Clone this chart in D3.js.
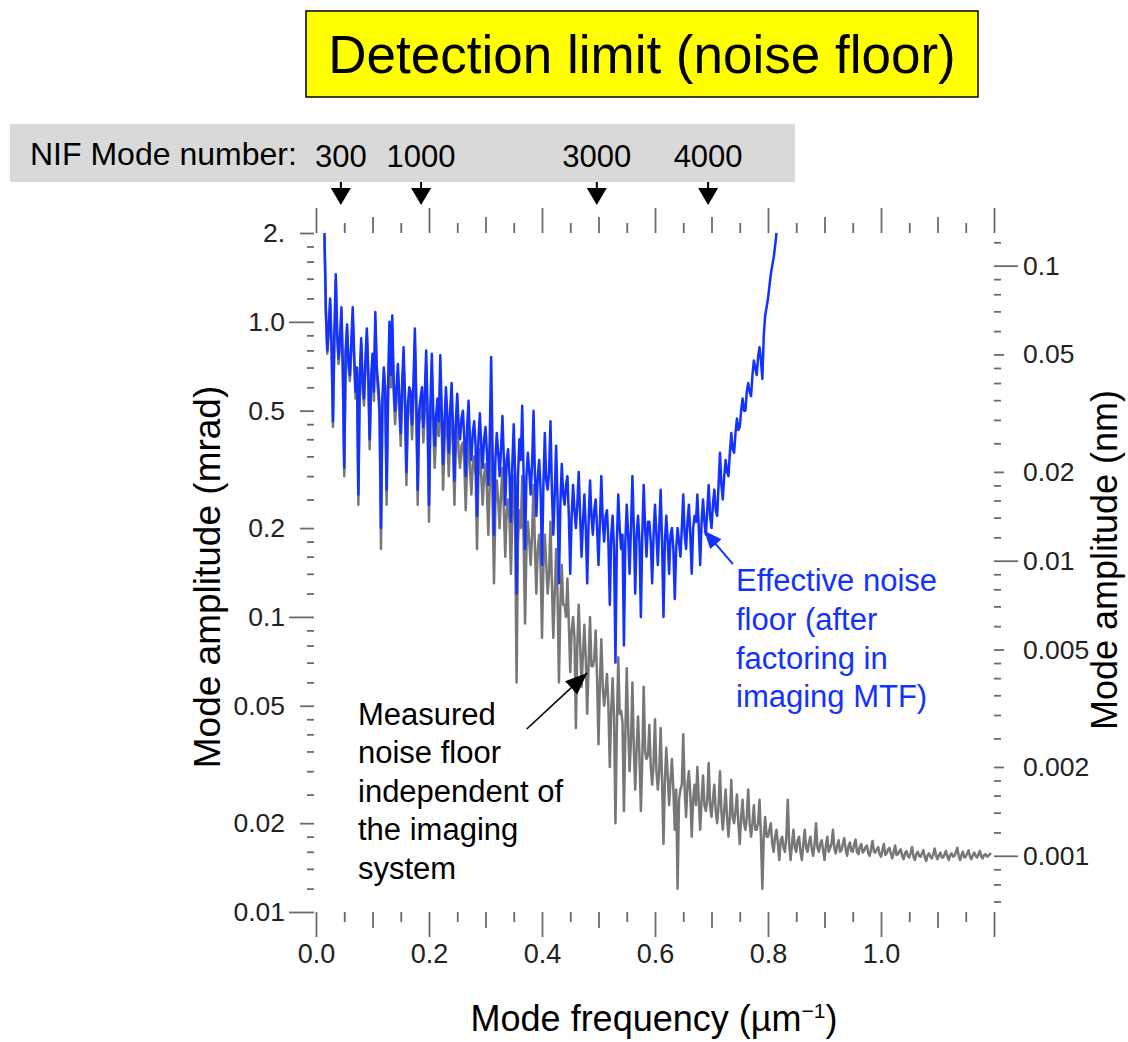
<!DOCTYPE html>
<html>
<head>
<meta charset="utf-8">
<script src="https://cdn.jsdelivr.net/npm/d3@7"></script>
<style>
body { margin: 0; background: #fff; }
svg { font-family: "Liberation Sans", Arial, Helvetica, sans-serif; }
</style>
</head>
<body>
<svg id="chart" width="1128" height="1042"></svg>
<script>
// frequency grid of both spectra (um^-1)
var freqStart = 0.015;
var freqStep = 0.0025;

// measured noise floor, mrad (grey)
var measuredFloor = [
  1.95, 1.05, 0.78, 0.92, 1.15, 0.82, 0.44, 0.86, 1.38, 0.88, 0.72, 0.84, 1.08, 0.68, 0.30, 0.76, 0.94, 0.70, 0.63, 0.80,
  1.05, 0.74, 0.55, 0.66, 0.24, 0.62, 0.84, 0.58, 0.52, 0.70, 0.90, 0.64, 0.37, 0.60, 0.73, 0.54, 1.00, 0.66, 0.57, 0.48,
  0.17, 0.50, 0.64, 0.55, 0.24, 0.53, 0.92, 0.60, 0.96, 0.57, 0.45, 0.55, 0.66, 0.50, 0.38, 0.56, 0.74, 0.50, 0.28, 0.47,
  0.54, 0.52, 0.40, 0.55, 0.85, 0.50, 0.24, 0.45, 0.49, 0.53, 0.39, 0.50, 0.70, 0.45, 0.21, 0.46, 0.66, 0.44, 0.32, 0.41,
  0.47, 0.41, 0.65, 0.43, 0.27, 0.39, 0.50, 0.41, 0.30, 0.42, 0.52, 0.37, 0.24, 0.38, 0.47, 0.36, 0.32, 0.38, 0.39, 0.33,
  0.23, 0.33, 0.42, 0.32, 0.26, 0.33, 0.35, 0.30, 0.17, 0.30, 0.37, 0.30, 0.24, 0.30, 0.33, 0.27, 0.19, 0.28, 0.52, 0.25,
  0.13, 0.24, 0.29, 0.25, 0.20, 0.26, 0.32, 0.23, 0.16, 0.23, 0.25, 0.21, 0.14, 0.22, 0.30, 0.20, 0.06, 0.18, 0.23, 0.20,
  0.30, 0.18, 0.095, 0.17, 0.21, 0.18, 0.15, 0.19, 0.28, 0.17, 0.12, 0.17, 0.19, 0.15, 0.085, 0.15, 0.19, 0.15, 0.12, 0.14,
  0.21, 0.13, 0.085, 0.12, 0.17, 0.12, 0.06, 0.11, 0.15, 0.11, 0.11, 0.10, 0.135, 0.095, 0.065, 0.09, 0.10, 0.085, 0.042, 0.08,
  0.11, 0.08, 0.058, 0.075, 0.094, 0.072, 0.047, 0.07, 0.10, 0.068, 0.068, 0.072, 0.09, 0.062, 0.037, 0.06, 0.084, 0.058, 0.05, 0.056,
  0.064, 0.05, 0.031, 0.048, 0.062, 0.046, 0.02, 0.042, 0.073, 0.047, 0.048, 0.044, 0.022, 0.04, 0.067, 0.042, 0.03, 0.038, 0.06, 0.036,
  0.026, 0.036, 0.046, 0.034, 0.022, 0.033, 0.058, 0.035, 0.033, 0.034, 0.043, 0.031, 0.027, 0.032, 0.045, 0.03, 0.026, 0.03, 0.042, 0.028,
  0.017, 0.028, 0.036, 0.029, 0.023, 0.028, 0.033, 0.026, 0.019, 0.026, 0.012, 0.024, 0.026, 0.027, 0.04, 0.026, 0.021, 0.027, 0.03, 0.025,
  0.018, 0.024, 0.027, 0.023, 0.031, 0.024, 0.019, 0.024, 0.029, 0.023, 0.022, 0.024, 0.032, 0.023, 0.021, 0.024, 0.027, 0.022, 0.02, 0.023,
  0.03, 0.022, 0.019, 0.022, 0.026, 0.021, 0.018, 0.021, 0.028, 0.021, 0.02, 0.022, 0.025, 0.02, 0.017, 0.021, 0.024, 0.02, 0.019, 0.021,
  0.026, 0.02, 0.018, 0.02, 0.023, 0.019, 0.019, 0.02, 0.024, 0.018, 0.012, 0.018, 0.021, 0.018, 0.018, 0.019, 0.02, 0.017, 0.016, 0.018,
  0.019, 0.017, 0.015, 0.0175, 0.018, 0.0165, 0.016, 0.018, 0.024, 0.017, 0.015, 0.017, 0.019, 0.0165, 0.016, 0.0175, 0.018, 0.016, 0.015, 0.017,
  0.019, 0.0165, 0.016, 0.0172, 0.018, 0.0163, 0.0155, 0.017, 0.02, 0.0165, 0.016, 0.017, 0.0175, 0.0162, 0.015, 0.0168, 0.018, 0.016, 0.0165, 0.017,
  0.019, 0.0164, 0.0158, 0.0168, 0.0175, 0.016, 0.0162, 0.017, 0.0178, 0.0163, 0.0155, 0.0167, 0.0172, 0.0161, 0.016, 0.0169, 0.0176, 0.016, 0.0157, 0.0166,
  0.017, 0.0159, 0.0161, 0.0166, 0.0168, 0.0158, 0.0155, 0.0164, 0.0174, 0.016, 0.0159, 0.0163, 0.0166, 0.0157, 0.0154, 0.0162, 0.017, 0.0156, 0.0158, 0.0163,
  0.0165, 0.0157, 0.0152, 0.016, 0.0168, 0.0156, 0.0157, 0.0161, 0.0163, 0.0155, 0.0151, 0.0158, 0.0161, 0.0155, 0.0153, 0.0159, 0.0166, 0.0154, 0.0150, 0.0157,
  0.0160, 0.0155, 0.0154, 0.0158, 0.0162, 0.0153, 0.0149, 0.0156, 0.0158, 0.0154, 0.0152, 0.0157, 0.0164, 0.0155, 0.0151, 0.0156, 0.0159, 0.0153, 0.0153, 0.0157,
  0.0161, 0.0154, 0.0150, 0.0156, 0.0158, 0.0154, 0.0155, 0.0159, 0.0165, 0.0155, 0.0150, 0.0156, 0.0160, 0.0153, 0.0154, 0.0158, 0.0162, 0.0154, 0.0151, 0.0156,
  0.0159, 0.0155, 0.0153, 0.0157, 0.0161, 0.0154, 0.0152, 0.0156, 0.0157, 0.0154, 0.0155, 0.0157, 0.0158
];

// effective noise floor after the imaging MTF, mrad (blue)
var effectiveFloor = [
  2.0, 1.10, 0.80, 0.95, 1.20, 0.85, 0.46, 0.90, 1.45, 0.92, 0.75, 0.88, 1.12, 0.70, 0.32, 0.80, 0.98, 0.74, 0.66, 0.85,
  1.12, 0.78, 0.58, 0.70, 0.26, 0.66, 0.88, 0.62, 0.55, 0.74, 0.95, 0.68, 0.40, 0.64, 0.78, 0.58, 1.08, 0.70, 0.62, 0.52,
  0.20, 0.55, 0.70, 0.60, 0.27, 0.58, 1.00, 0.66, 1.05, 0.62, 0.50, 0.60, 0.72, 0.55, 0.42, 0.62, 0.82, 0.56, 0.31, 0.52,
  0.60, 0.58, 0.45, 0.62, 0.95, 0.55, 0.27, 0.50, 0.55, 0.60, 0.44, 0.56, 0.80, 0.50, 0.24, 0.52, 0.78, 0.50, 0.38, 0.48,
  0.55, 0.46, 0.77, 0.50, 0.33, 0.46, 0.60, 0.48, 0.36, 0.50, 0.62, 0.44, 0.29, 0.46, 0.57, 0.44, 0.40, 0.47, 0.50, 0.40,
  0.30, 0.44, 0.54, 0.40, 0.34, 0.42, 0.46, 0.38, 0.22, 0.40, 0.49, 0.38, 0.32, 0.40, 0.44, 0.36, 0.28, 0.40, 0.76, 0.36,
  0.19, 0.34, 0.42, 0.36, 0.30, 0.37, 0.48, 0.34, 0.24, 0.34, 0.37, 0.30, 0.21, 0.33, 0.45, 0.30, 0.12, 0.30, 0.40, 0.34,
  0.52, 0.30, 0.17, 0.30, 0.36, 0.31, 0.26, 0.33, 0.50, 0.30, 0.22, 0.30, 0.34, 0.27, 0.15, 0.28, 0.42, 0.29, 0.27, 0.31,
  0.46, 0.27, 0.19, 0.26, 0.38, 0.25, 0.13, 0.24, 0.33, 0.26, 0.24, 0.28, 0.30, 0.22, 0.14, 0.22, 0.28, 0.23, 0.20, 0.24,
  0.31, 0.22, 0.16, 0.21, 0.26, 0.20, 0.13, 0.21, 0.29, 0.22, 0.19, 0.23, 0.25, 0.20, 0.15, 0.21, 0.30, 0.21, 0.18, 0.22,
  0.23, 0.18, 0.11, 0.19, 0.22, 0.17, 0.07, 0.18, 0.26, 0.20, 0.17, 0.19, 0.08, 0.18, 0.24, 0.19, 0.14, 0.20, 0.30, 0.20,
  0.12, 0.19, 0.22, 0.18, 0.10, 0.19, 0.28, 0.20, 0.16, 0.21, 0.21, 0.18, 0.13, 0.19, 0.24, 0.19, 0.15, 0.20, 0.27, 0.18,
  0.10, 0.18, 0.22, 0.18, 0.14, 0.19, 0.20, 0.17, 0.115, 0.17, 0.20, 0.18, 0.16, 0.20, 0.26, 0.19, 0.17, 0.21, 0.24, 0.19,
  0.14, 0.20, 0.22, 0.21, 0.26, 0.20, 0.15, 0.21, 0.25, 0.21, 0.19, 0.23, 0.28, 0.22, 0.20, 0.24, 0.27, 0.23, 0.22, 0.28,
  0.36, 0.28, 0.25, 0.30, 0.34, 0.31, 0.30, 0.36, 0.42, 0.37, 0.36, 0.42, 0.47, 0.43, 0.44, 0.50, 0.55, 0.50, 0.50, 0.58,
  0.62, 0.58, 0.56, 0.66, 0.74, 0.70, 0.66, 0.76, 0.82, 0.74, 0.64, 0.90, 1.05, 1.12, 1.20, 1.32, 1.45, 1.55, 1.65, 1.80,
  2.0
];

var modeLabels = ["300", "1000", "3000", "4000"];
var modeFreqs = [0.044, 0.186, 0.497, 0.694];

var leftTicks = [2, 1, 0.5, 0.2, 0.1, 0.05, 0.02, 0.01];
var leftTickText = ["2.", "1.0", "0.5", "0.2", "0.1", "0.05", "0.02", "0.01"];
var rightTicks = [0.1, 0.05, 0.02, 0.01, 0.005, 0.002, 0.001];
var xTicks = [0, 0.2, 0.4, 0.6, 0.8, 1.0];
var nmPerMrad = 0.0645;

var svg = d3.select("#chart");
var x = d3.scaleLinear().domain([0, 1.2]).range([316, 994]);
var y = d3.scaleLog().domain([0.01, 2]).range([912, 233]);
var y2 = d3.scaleLog().domain([0.01 * nmPerMrad, 2 * nmPerMrad]).range([912, 233]);

// igor style log ticks
function logTicks(scale, mult) {
  var d = scale.domain(), out = [];
  for (var e = -5; e <= 1; e++) {
    mult.forEach(function(m) {
      var v = +(m * Math.pow(10, e)).toPrecision(6);
      if (v >= d[0] * 0.999 && v <= d[1] * 1.001) out.push(v);
    });
  }
  return out;
}
var decMult = [1], midMult = [2, 5], minMult = [1.2, 1.4, 1.6, 1.8, 2.5, 3, 3.5, 4, 4.5, 6, 7, 8, 9];

var tickColor = "#6b6b6b", labelColor = "#222";

function styleAxis(g) {
  g.select(".domain").remove();
  g.selectAll(".tick line").attr("stroke", tickColor).attr("stroke-width", 1.8);
  g.selectAll(".tick text").attr("fill", labelColor).style("font-size", "26.5px");
}

// title
svg.append("rect").attr("x", 306).attr("y", 11).attr("width", 672).attr("height", 86)
  .attr("fill", "#ffff00").attr("stroke", "#000").attr("stroke-width", 1.5);
svg.append("text").attr("x", 642).attr("y", 73).attr("text-anchor", "middle")
  .style("font-size", "53px").text("Detection limit (noise floor)");

// mode number band
svg.append("rect").attr("x", 10).attr("y", 124).attr("width", 785).attr("height", 58).attr("fill", "#d9d9d9");
svg.append("text").attr("x", 30).attr("y", 165).style("font-size", "32px").text("NIF Mode number:");
modeLabels.forEach(function(lab, i) {
  var px = x(modeFreqs[i]);
  svg.append("text").attr("x", px).attr("y", 167).attr("text-anchor", "middle")
    .style("font-size", "31px").text(lab);
  svg.append("line").attr("x1", px).attr("x2", px).attr("y1", 182).attr("y2", 190)
    .attr("stroke", "#000").attr("stroke-width", 2);
  svg.append("path").attr("d", d3.line()([[px - 10, 188], [px + 10, 188], [px, 205]]) + "Z").attr("fill", "#000");
});

// x axes (bottom and mirrored top)
var xAll = d3.range(0, 25).map(function(i) { return +(i * 0.05).toFixed(2); });
var xMaj = xAll.filter(function(d, i) { return i % 4 == 0; });
var xMid = xAll.filter(function(d, i) { return i % 4 == 2; });
var xMin = xAll.filter(function(d, i) { return i % 2 == 1; });

[[xMaj, 25], [xMid, 16], [xMin, 10]].forEach(function(s) {
  svg.append("g").attr("transform", "translate(0,912)")
    .call(d3.axisBottom(x).tickValues(s[0]).tickSize(s[1]).tickFormat("")).call(styleAxis);
  svg.append("g").attr("transform", "translate(0,233)")
    .call(d3.axisTop(x).tickValues(s[0]).tickSize(s[1]).tickFormat("")).call(styleAxis);
});
svg.append("g").attr("transform", "translate(0,912)")
  .call(d3.axisBottom(x).tickValues(xTicks).tickSize(0).tickPadding(32).tickFormat(d3.format(".1f")))
  .call(styleAxis).selectAll("text").style("font-size", "27px");

// left axis (mrad)
[[decMult, 25], [midMult, 14], [minMult, 7]].forEach(function(s) {
  svg.append("g").attr("transform", "translate(314,0)")
    .call(d3.axisLeft(y).tickValues(logTicks(y, s[0])).tickSize(s[1]).tickFormat("")).call(styleAxis);
});
svg.append("g").attr("transform", "translate(314,0)")
  .call(d3.axisLeft(y).tickValues(leftTicks).tickSize(0).tickPadding(29)
    .tickFormat(function(d, i) { return leftTickText[i]; }))
  .call(styleAxis);

// right axis (nm)
[[decMult, 24], [midMult, 10], [minMult, 7]].forEach(function(s) {
  svg.append("g").attr("transform", "translate(994,0)")
    .call(d3.axisRight(y2).tickValues(logTicks(y2, s[0])).tickSize(s[1]).tickFormat("")).call(styleAxis);
});
svg.append("g").attr("transform", "translate(994,0)")
  .call(d3.axisRight(y2).tickValues(rightTicks).tickSize(0).tickPadding(29).tickFormat(function(d) { return String(d); }))
  .call(styleAxis);

// spectra
var line = d3.line()
  .x(function(d, i) { return x(freqStart + i * freqStep); })
  .y(function(d) { return y(d); });

svg.append("path").datum(measuredFloor).attr("d", line)
  .attr("fill", "none").attr("stroke", "#777").attr("stroke-width", 2.5).attr("stroke-linejoin", "round");
svg.append("path").datum(effectiveFloor).attr("d", line)
  .attr("fill", "none").attr("stroke", "#1432ff").attr("stroke-width", 2.5).attr("stroke-linejoin", "round");

// axis titles
svg.append("text").attr("transform", "translate(207,577) rotate(-90)").attr("dy", "0.35em")
  .attr("text-anchor", "middle").style("font-size", "37px").text("Mode amplitude (mrad)");
svg.append("text").attr("transform", "translate(1104,560) rotate(-90)").attr("dy", "0.35em")
  .attr("text-anchor", "middle").style("font-size", "36px").text("Mode amplitude (nm)");
var xt = svg.append("text").attr("x", 654).attr("y", 1031).attr("text-anchor", "middle").style("font-size", "36px");
xt.append("tspan").text("Mode frequency (\u00b5m");
xt.append("tspan").attr("dy", "-13").style("font-size", "21px").text("\u22121");
xt.append("tspan").attr("dy", "13").text(")");

// annotations
var defs = svg.append("defs");
function head(id, color, w, h) {
  defs.append("marker").attr("id", id).attr("viewBox", "0 0 " + w + " " + h)
    .attr("refX", w).attr("refY", h / 2).attr("markerWidth", w).attr("markerHeight", h)
    .attr("markerUnits", "userSpaceOnUse").attr("orient", "auto")
    .append("path").attr("d", "M0,0L" + w + "," + (h / 2) + "L0," + h + "Z").attr("fill", color);
}
head("blackHead", "#000", 22, 18);
head("blueHead", "#1432ff", 18, 15);

svg.append("line").attr("x1", x(0.373)).attr("y1", y(0.0417)).attr("x2", x(0.48)).attr("y2", y(0.0646))
  .attr("stroke", "#000").attr("stroke-width", 1.6).attr("marker-end", "url(#blackHead)");
svg.append("line").attr("x1", x(0.738)).attr("y1", y(0.151)).attr("x2", x(0.687)).attr("y2", y(0.196))
  .attr("stroke", "#1432ff").attr("stroke-width", 2).attr("marker-end", "url(#blueHead)");

var blackNote = ["Measured", "noise floor", "independent of", "the imaging", "system"];
var blueNote = ["Effective noise", "floor (after", "factoring in", "imaging MTF)"];
blackNote.forEach(function(t, i) {
  svg.append("text").attr("x", 358).attr("y", 725 + i * 38.4).style("font-size", "31px").attr("fill", "#000").text(t);
});
blueNote.forEach(function(t, i) {
  svg.append("text").attr("x", 736).attr("y", 591 + i * 38.8).style("font-size", "31px").attr("fill", "#1432ff").text(t);
});
</script>
</body>
</html>
